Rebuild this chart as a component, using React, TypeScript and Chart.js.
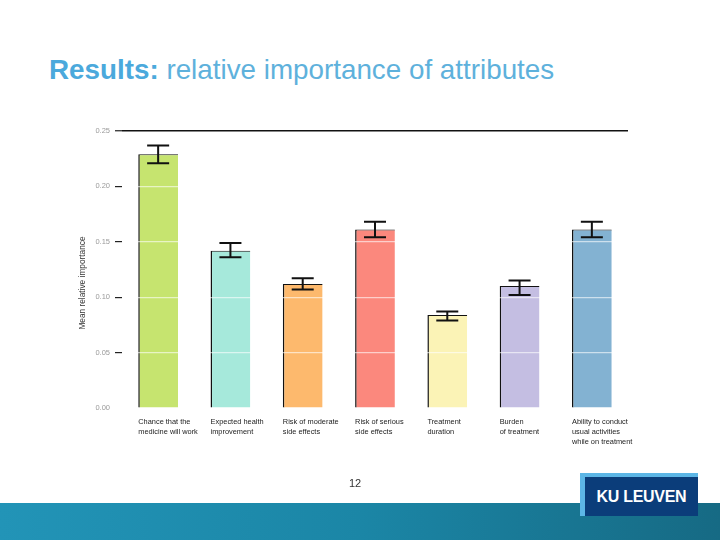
import React, { useEffect, useRef } from "react";
import { Chart, registerables } from "chart.js";

Chart.register(...registerables);

const categories: string[][] = [
  ["Chance that the", "medicine will work"],
  ["Expected health", "improvement"],
  ["Risk of moderate", "side effects"],
  ["Risk of serious", "side effects"],
  ["Treatment", "duration"],
  ["Burden", "of treatment"],
  ["Ability to conduct", "usual activities", "while on treatment"],
];
const meanImportance = [0.229, 0.142, 0.112, 0.161, 0.084, 0.11, 0.161];
const errorLow = [0.221, 0.136, 0.107, 0.154, 0.079, 0.102, 0.154];
const errorHigh = [0.237, 0.149, 0.117, 0.168, 0.087, 0.115, 0.168];
const barColors = ["#c6e46f", "#a6e9db", "#fdb96d", "#fb887d", "#fbf3b6", "#c4bee2", "#83b2d2"];
const yTicks = [0, 0.05, 0.1, 0.15, 0.2, 0.25];
const yTitle = "Mean relative importance";

const FONT = "'Liberation Sans', Arial, sans-serif";

const errorBarPlugin = {
  id: "errorBars",
  afterDraw(chart: any) {
    const ctx = chart.ctx;
    const y = chart.scales.y;
    const meta = chart.getDatasetMeta(0);
    ctx.save();
    ctx.strokeStyle = "#111";
    ctx.lineWidth = 2;
    meta.data.forEach((bar: any, i: number) => {
      const x = bar.x;
      const yl = y.getPixelForValue(errorLow[i]);
      const yh = y.getPixelForValue(errorHigh[i]);
      const cap = 11;
      ctx.beginPath();
      ctx.moveTo(x, yl);
      ctx.lineTo(x, yh);
      ctx.moveTo(x - cap, yl);
      ctx.lineTo(x + cap, yl);
      ctx.moveTo(x - cap, yh);
      ctx.lineTo(x + cap, yh);
      ctx.stroke();
    });
    // category labels, left-aligned at bar left edges
    ctx.fillStyle = "#222";
    ctx.font = `7.4px ${FONT}`;
    ctx.textAlign = "left";
    ctx.textBaseline = "alphabetic";
    const base = y.getPixelForValue(0);
    meta.data.forEach((bar: any, i: number) => {
      const left = bar.x - bar.width / 2;
      categories[i].forEach((line, j) => {
        ctx.fillText(line, left, base + 15.5 + j * 10);
      });
    });
    // y-axis title
    ctx.translate(83, 283);
    ctx.rotate(-Math.PI / 2);
    ctx.fillStyle = "#333";
    ctx.font = `8.3px ${FONT}`;
    ctx.textAlign = "center";
    ctx.textBaseline = "middle";
    ctx.fillText(yTitle, 0, 0);
    ctx.restore();
  },
};

function ChartCanvas() {
  const ref = useRef<HTMLCanvasElement>(null);
  useEffect(() => {
    if (!ref.current) return;
    const chart = new Chart(ref.current, {
      type: "bar",
      data: {
        labels: categories.map((c) => c.join(" ")),
        datasets: [
          {
            data: meanImportance,
            backgroundColor: barColors,
            borderColor: "#111",
            borderWidth: { left: 1.5, top: 1, right: 0, bottom: 0 } as any,
            borderSkipped: false,
            barPercentage: 0.55,
            categoryPercentage: 1,
          },
        ],
      },
      options: {
        animation: false,
        responsive: false,
        maintainAspectRatio: false,
        events: [],
        layout: { padding: { left: 70, top: 131, right: 92, bottom: 132 } },
        plugins: { legend: { display: false }, tooltip: { enabled: false }, title: { display: false } },
        scales: {
          x: {
            type: "category",
            offset: true,
            grid: { display: false, drawTicks: false },
            border: { display: false },
            ticks: { display: false },
            afterFit: (s: any) => {
              s.height = 0;
            },
          },
          y: {
            min: 0,
            max: 0.25,
            afterBuildTicks: (s: any) => {
              s.ticks = yTicks.map((v) => ({ value: v }));
            },
            afterFit: (s: any) => {
              s.width = 52;
            },
            border: { display: false },
            grid: {
              z: 1,
              color: (c: any) =>
                c.tick && Math.abs(c.tick.value - 0.25) < 1e-6
                  ? "#111"
                  : c.tick && c.tick.value === 0
                  ? "rgba(0,0,0,0)"
                  : "rgba(255,255,255,0.6)",
              lineWidth: (c: any) => (c.tick && Math.abs(c.tick.value - 0.25) < 1e-6 ? 1.5 : 1.2),
              tickColor: (c: any) => (c.tick && c.tick.value === 0 ? "rgba(0,0,0,0)" : "#222"),
              tickLength: 7,
              tickWidth: 1.2,
              drawTicks: true,
            } as any,
            ticks: {
              padding: 5,
              color: "#9a9a9a",
              font: { family: FONT, size: 7.5 },
              callback: (v: any) => Number(v).toFixed(2),
            },
            title: { display: false },
          },
        },
      },
      plugins: [errorBarPlugin],
    });
    return () => chart.destroy();
  }, []);
  return (
    <canvas
      ref={ref}
      width={720}
      height={540}
      style={{ position: "absolute", left: 0, top: 0, width: 720, height: 540 }}
    />
  );
}

export default function App() {
  return (
    <div
      style={{
        position: "fixed",
        left: 0,
        top: 0,
        width: 720,
        height: 540,
        background: "#fff",
        overflow: "hidden",
        fontFamily: FONT,
      }}
    >
      <div
        style={{
          position: "absolute",
          left: 49,
          top: 53,
          fontSize: 27.8,
          color: "#5eb1dc",
          whiteSpace: "nowrap",
          lineHeight: "34px",
        }}
      >
        <span style={{ fontWeight: "bold", color: "#4ba9dc" }}>Results:</span> relative importance of attributes
      </div>
      <ChartCanvas />
      <div
        style={{
          position: "absolute",
          left: 340,
          top: 475,
          width: 30,
          textAlign: "center",
          fontSize: 11,
          color: "#333",
          lineHeight: "16px",
        }}
      >
        12
      </div>
      <div
        style={{
          position: "absolute",
          left: 0,
          top: 503,
          width: 720,
          height: 37,
          background: "linear-gradient(to right, #2294b7, #1b86a6 50%, #166a84)",
        }}
      />
      <div
        style={{ position: "absolute", left: 580, top: 473, width: 118, height: 43, background: "#5cb6e6" }}
      />
      <div
        style={{
          position: "absolute",
          left: 585,
          top: 477,
          width: 113,
          height: 39,
          background: "#0b3d7a",
          color: "#fff",
          fontWeight: "bold",
          fontSize: 16,
          lineHeight: "39px",
          textAlign: "center",
          letterSpacing: -0.3,
        }}
      >
        KU LEUVEN
      </div>
    </div>
  );
}
